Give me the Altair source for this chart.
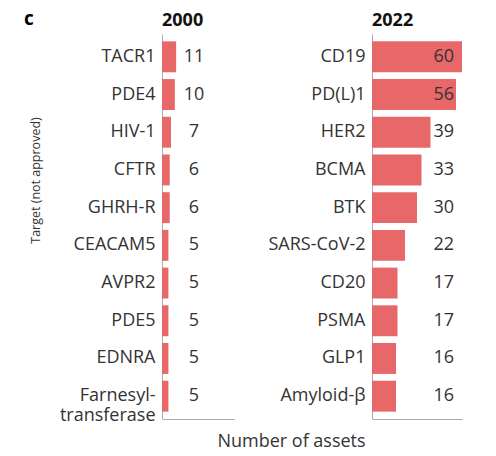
import altair as alt
import pandas as pd

targets_2000 = ["TACR1", "PDE4", "HIV-1", "CFTR", "GHRH-R", "CEACAM5", "AVPR2", "PDE5", "EDNRA", "Farnesyl-transferase"]
assets_2000 = [11, 10, 7, 6, 6, 5, 5, 5, 5, 5]
targets_2022 = ["CD19", "PD(L)1", "HER2", "BCMA", "BTK", "SARS-CoV-2", "CD20", "PSMA", "GLP1", "Amyloid-β"]
assets_2022 = [60, 56, 39, 33, 30, 22, 17, 17, 16, 16]
panel_titles = ["2000", "2022"]
panel_letter = "c"

df0 = pd.DataFrame({"target": targets_2000, "assets": assets_2000})
df2 = pd.DataFrame({"target": targets_2022, "assets": assets_2022})

FONT = "Open Sans"
BAR = "#E8686A"
TXT = "#333333"
AX = "#aaaaaa"
H = 385


def panel(df, year, width, xmax, label_x, label_align, first):
    yaxis = alt.Axis(
        title="Target (not approved)" if first else None,
        ticks=False, domainColor=AX, domainWidth=1,
        labelFont=FONT, labelFontSize=18, labelColor=TXT, labelPadding=7,
        labelLineHeight=20,
        labelExpr="datum.label == 'Farnesyl-transferase' ? ['Farnesyl-', 'transferase'] : datum.label",
        titleFont=FONT, titleFontSize=12.5, titleFontWeight="normal", titleColor=TXT,
        titleX=-127, titleY=146, titleBaseline="middle", titleAlign="center",
    )
    xaxis = alt.Axis(
        title="Number of assets" if first else None,
        labels=False, ticks=False, grid=False, domainColor=AX,
        titleFont=FONT, titleFontSize=18, titleFontWeight="normal", titleColor=TXT,
        titleX=129, titleY=27, titleBaseline="alphabetic", titleAlign="center",
    )
    base = alt.Chart(df)
    y = alt.Y("target:N", sort=None, axis=yaxis,
              scale=alt.Scale(paddingInner=0.18, paddingOuter=0.195))
    bars = base.mark_bar(color=BAR).encode(
        x=alt.X("assets:Q", axis=xaxis, scale=alt.Scale(domain=[0, xmax], nice=False)),
        y=y,
    )
    text = base.mark_text(font=FONT, fontSize=18, color=TXT, align=label_align, baseline="middle").encode(
        x=alt.value(label_x), y=alt.Y("target:N", sort=None), text="assets:Q"
    )
    head = alt.Chart(pd.DataFrame({"label": [year]})).mark_text(
        font=FONT, fontSize=18, fontWeight="bold", color="#111111",
        align="left", baseline="alphabetic").encode(
        x=alt.value(0), y=alt.value(-8), text="label:N"
    )
    layers = [bars, text, head]
    if first:
        letter = alt.Chart(pd.DataFrame({"label": [panel_letter]})).mark_text(
            font=FONT, fontSize=19, fontWeight="bold", color="#000000",
            align="left", baseline="alphabetic").encode(
            x=alt.value(-138), y=alt.value(-9), text="label:N"
        )
        layers.append(letter)
    return alt.layer(*layers).properties(width=width, height=H)


left = panel(df0, panel_titles[0], 72, 56, 32, "center", True)
right = panel(df2, panel_titles[1], 90, 60, 82, "right", False)

chart = alt.hconcat(left, right, spacing=138, bounds="flush").properties(
    padding={"left": 16, "top": 2, "right": 5, "bottom": 0}
).configure_view(stroke=None)

chart.save("out.html", embed_options={"renderer": "svg", "actions": False})
